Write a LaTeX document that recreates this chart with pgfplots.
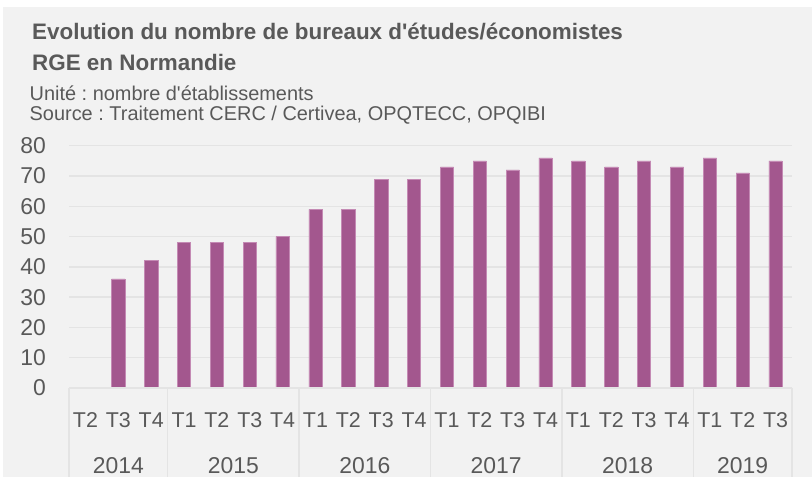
\documentclass[border=0pt]{standalone}
\usepackage{fontspec}
\setmainfont{Liberation Sans}
\usepackage{pgfplots}
\pgfplotsset{compat=1.18}
\definecolor{bg}{HTML}{F2F2F2}
\definecolor{gridc}{HTML}{E4E4E4}
\definecolor{txt}{HTML}{595959}
\definecolor{barc}{HTML}{A3578E}
\definecolor{barl}{HTML}{C48AB4}
\frenchspacing
\begin{document}
\begin{tikzpicture}[x=1bp,y=1bp]
\useasboundingbox (0,0) rectangle (812,477);
\fill[white] (0,0) rectangle (812,477);
\fill[bg] (3,0) rectangle (812,470);
\node[anchor=base west,inner sep=0,text=txt,font=\bfseries\fontsize{22.5}{23}\selectfont] at (32,437.7) {Evolution du nombre de bureaux d\textquotesingle études/économistes};
\node[anchor=base west,inner sep=0,text=txt,font=\bfseries\fontsize{22.5}{23}\selectfont] at (32,406.3) {RGE en Normandie};
\node[anchor=base west,inner sep=0,text=txt,font=\fontsize{20}{21}\selectfont] at (29.5,376) {Unité : nombre d\textquotesingle établissements};
\node[anchor=base west,inner sep=0,text=txt,font=\fontsize{20}{21}\selectfont] at (29.5,356) {Source : Traitement CERC / Certivea, OPQTECC, OPQIBI};
\begin{axis}[
  at={(69bp,89bp)}, anchor=south west,
  scale only axis, width=723bp, height=242.3bp,
  xmin=-0.5, xmax=21.5, ymin=0, ymax=80,
  ytick={0,10,...,80},
  xtick={0,...,21},
  xticklabels={T2,T3,T4,T1,T2,T3,T4,T1,T2,T3,T4,T1,T2,T3,T4,T1,T2,T3,T4,T1,T2,T3},
  axis line style={draw=none},
  major tick style={draw=none},
  ymajorgrids, grid style={gridc,line width=1.4bp},
  yticklabel style={anchor=east,inner sep=0pt,xshift=-23bp,text=txt,font=\fontsize{23}{24}\selectfont},
  xticklabel style={anchor=base,inner sep=0pt,yshift=-39.5bp,text=txt,font=\fontsize{21.5}{22}\selectfont},
  /pgf/number format/assume math mode=true,
  clip=false,
]
\addplot[ybar, bar width=13.3bp, fill=barc, draw=barl, line width=0.6bp] coordinates {
(1,36) (2,42) (3,48) (4,48) (5,48) (6,50) (7,59) (8,59) (9,69) (10,69)
(11,73) (12,75) (13,72) (14,76) (15,75) (16,73) (17,75) (18,73) (19,76) (20,71) (21,75)};
\draw[gridc,line width=1.4bp] (axis cs:-0.5,0) -- (axis cs:21.5,0);
\pgfplotsinvokeforeach{-0.5,2.5,6.5,10.5,14.5,18.5,21.5}{
  \draw[gridc,line width=1.4bp] (axis cs:#1,0) -- ([yshift=-89bp]axis cs:#1,0);
}
\node[anchor=base,inner sep=0,text=txt,font=\fontsize{23}{24}\selectfont] at ([yshift=-85.5bp]axis cs:1,0) {2014};
\node[anchor=base,inner sep=0,text=txt,font=\fontsize{23}{24}\selectfont] at ([yshift=-85.5bp]axis cs:4.5,0) {2015};
\node[anchor=base,inner sep=0,text=txt,font=\fontsize{23}{24}\selectfont] at ([yshift=-85.5bp]axis cs:8.5,0) {2016};
\node[anchor=base,inner sep=0,text=txt,font=\fontsize{23}{24}\selectfont] at ([yshift=-85.5bp]axis cs:12.5,0) {2017};
\node[anchor=base,inner sep=0,text=txt,font=\fontsize{23}{24}\selectfont] at ([yshift=-85.5bp]axis cs:16.5,0) {2018};
\node[anchor=base,inner sep=0,text=txt,font=\fontsize{23}{24}\selectfont] at ([yshift=-85.5bp]axis cs:20,0) {2019};
\end{axis}
\end{tikzpicture}
\end{document}
